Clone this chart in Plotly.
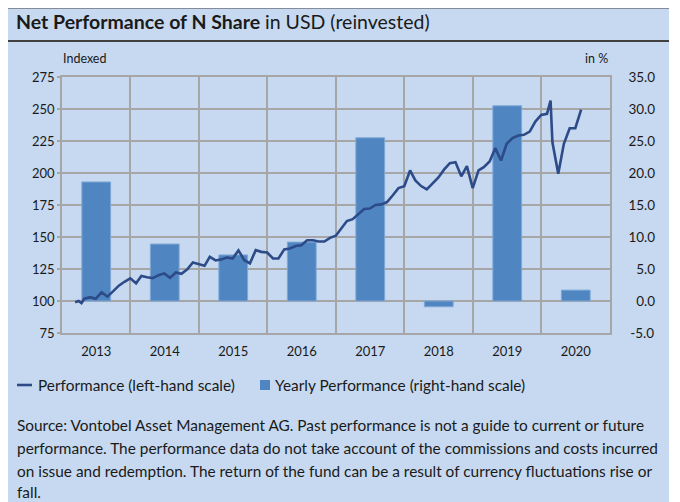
import plotly.graph_objects as go

# ---------------- data ----------------
years = ["2013", "2014", "2015", "2016", "2017", "2018", "2019", "2020"]
yearly_perf = [18.6, 8.9, 7.2, 9.2, 25.5, -0.9, 30.5, 1.7]

perf_dates = [
    "2013-03-12", "2013-03-31", "2013-04-15", "2013-04-30", "2013-05-31", "2013-06-30",
    "2013-07-31", "2013-08-31", "2013-09-30", "2013-10-31", "2013-11-30", "2013-12-31",
    "2014-01-31", "2014-02-28", "2014-03-31", "2014-04-30", "2014-05-31", "2014-06-30",
    "2014-07-31", "2014-08-31", "2014-09-30", "2014-10-31", "2014-11-30", "2014-12-31",
    "2015-01-31", "2015-02-28", "2015-03-31", "2015-04-30", "2015-05-31", "2015-06-30",
    "2015-07-31", "2015-08-31", "2015-09-30", "2015-10-31", "2015-11-30", "2015-12-31",
    "2016-01-31", "2016-02-29", "2016-03-31", "2016-04-30", "2016-05-31", "2016-06-30",
    "2016-07-31", "2016-08-31", "2016-09-30", "2016-10-31", "2016-11-30", "2016-12-31",
    "2017-01-31", "2017-02-28", "2017-03-31", "2017-04-30", "2017-05-31", "2017-06-30",
    "2017-07-31", "2017-08-31", "2017-09-30", "2017-10-31", "2017-11-30", "2017-12-31",
    "2018-01-31", "2018-02-28", "2018-03-31", "2018-04-30", "2018-05-31", "2018-06-30",
    "2018-07-31", "2018-08-31", "2018-09-30", "2018-10-31", "2018-11-30", "2018-12-31",
    "2019-01-31", "2019-02-28", "2019-03-31", "2019-04-30", "2019-05-31", "2019-06-30",
    "2019-07-31", "2019-08-31", "2019-09-30", "2019-10-31", "2019-11-30", "2019-12-31",
    "2020-01-31", "2020-02-19", "2020-02-29", "2020-03-31", "2020-04-30", "2020-05-31",
    "2020-06-30", "2020-07-31",
]
perf_values = [
    99.0, 100.0, 98.4, 101.8, 103.0, 101.8,
    106.8, 103.4, 107.5, 112.0, 115.0, 117.7,
    113.8, 119.5, 118.5, 117.9, 120.2, 121.6,
    118.1, 122.3, 121.3, 124.7, 130.1, 128.8,
    127.5, 134.5, 131.7, 132.5, 134.0, 133.2,
    139.5, 131.9, 129.4, 139.7, 138.4, 137.9,
    133.2, 133.2, 140.3, 141.0, 143.0, 143.6,
    147.5, 147.5, 146.5, 146.5, 149.3, 151.0,
    156.6, 162.5, 163.9, 167.5, 171.9, 172.2,
    175.0, 175.5, 177.3, 182.6, 188.2, 189.6,
    202.0, 194.2, 189.8, 187.2, 191.7, 196.3,
    202.6, 207.7, 208.5, 197.4, 205.4, 188.2,
    202.0, 204.6, 209.0, 219.4, 209.8, 222.8,
    227.2, 229.3, 229.8, 232.4, 240.2, 245.4,
    246.2, 256.5, 224.0, 199.5, 222.8, 235.0,
    235.0, 249.5,
]

left_ticks = [75, 100, 125, 150, 175, 200, 225, 250, 275]
right_ticks = [-5, 0, 5, 10, 15, 20, 25, 30, 35]
right_ticktext = ["\u2009-5.0", "\u20070.0", "\u20075.0", "10.0", "15.0", "20.0", "25.0", "30.0", "35.0"]

line_name = "Performance (left-hand scale)"
bar_name = "Yearly Performance (right-hand scale)"
title_bold = "Net Performance of N Share"
title_rest = "in USD (reinvested)"
left_unit = "Indexed"
right_unit = "in %"
source_lines = [
    "Source: Vontobel Asset Management AG. Past performance is not a guide to current or future",
    "performance. The performance data do not take account of the commissions and costs incurred",
    "on issue and redemption. The return of the fund can be a result of currency fluctuations rise or",
    "fall.",
]

# ---------------- style ----------------
BG = "#C6D9F0"
BAR = "#4F86C1"
LINE = "#2C4B88"
GRID = "#A6A6A6"
TXT = "#1A1A1A"
FONT = "Lato"

OFF = 8                      # page body margin of the browser
W, H = 672, 494              # figure size (page offset by OFF)
ML, MR, MT, MB = 54, 70, 69, 169
PW, PH = W - ML - MR, H - MT - MB


def px(x):
    """screen x -> paper x"""
    return (x - OFF - ML) / PW


def py(y):
    """screen y -> paper y"""
    return (H - MB - (y - OFF)) / PH


fig = go.Figure()

fig.add_trace(go.Bar(
    x=years, y=yearly_perf, xaxis="x", yaxis="y",
    name=bar_name, showlegend=False,
    marker=dict(color=BAR, line=dict(color="#7FA7D6", width=1)),
    width=0.42,
))

fig.add_trace(go.Scatter(
    x=perf_dates, y=perf_values, xaxis="x2", yaxis="y2",
    mode="lines", name=line_name, showlegend=False,
    line=dict(color=LINE, width=2.6),
))

fig.update_layout(
    width=W, height=H,
    margin=dict(l=ML, r=MR, t=MT, b=MB),
    paper_bgcolor="white",
    plot_bgcolor="rgba(0,0,0,0)",
    font=dict(family=FONT, size=13, color=TXT),
    showlegend=False,
    xaxis=dict(
        type="category", range=[-0.5, 7.5],
        showgrid=False, showline=True, mirror=True, linecolor=GRID, linewidth=1.5,
        ticks="", tickfont=dict(size=13, color=TXT), ticklabelstandoff=6,
        fixedrange=True,
    ),
    xaxis2=dict(
        type="date", overlaying="x", side="bottom",
        range=["2013-01-01", "2021-01-01"],
        tick0="2013-01-01", dtick="M12",
        showgrid=True, gridcolor=GRID, gridwidth=1.5,
        showticklabels=False, showline=False, ticks="", zeroline=False,
    ),
    yaxis=dict(
        side="right", range=[-5, 35],
        tickmode="array", tickvals=right_ticks, ticktext=right_ticktext,
        showgrid=True, gridcolor=GRID, gridwidth=1.5, zeroline=False,
        showline=True, linecolor=GRID, linewidth=1.5,
        ticks="", tickfont=dict(size=13.5, color=TXT), ticklabelstandoff=14,
    ),
    yaxis2=dict(
        side="left", overlaying="y", range=[75, 275],
        tickmode="array", tickvals=left_ticks,
        showgrid=False, zeroline=False,
        showline=True, linecolor=GRID, linewidth=1.5,
        ticks="outside", ticklen=3, tickcolor=GRID, tickwidth=1.5,
        tickfont=dict(size=13, color=TXT),
    ),
)

shapes = [
    # panel background
    dict(type="rect", xref="paper", yref="paper", x0=px(7), x1=px(669), y0=py(H + OFF + 5), y1=py(7),
         fillcolor=BG, line=dict(width=0), layer="below"),
    # title rules
    dict(type="line", xref="paper", yref="paper", x0=px(7), x1=px(669), y0=py(7.5), y1=py(7.5),
         line=dict(color="#404040", width=2)),
    dict(type="line", xref="paper", yref="paper", x0=px(7), x1=px(669), y0=py(41), y1=py(41),
         line=dict(color="#404040", width=2)),
    # legend keys
    dict(type="line", xref="paper", yref="paper", x0=px(17), x1=px(32), y0=py(385), y1=py(385),
         line=dict(color=LINE, width=2.6)),
    dict(type="rect", xref="paper", yref="paper", x0=px(260), x1=px(270), y0=py(390), y1=py(380),
         fillcolor=BAR, line=dict(width=0)),
]
fig.update_layout(shapes=shapes)

annotations = [
    dict(text=f"<b>{title_bold}</b> {title_rest}", xref="paper", yref="paper",
         x=px(14), y=py(21), xanchor="left", yanchor="middle", showarrow=False,
         font=dict(size=19.5, color=TXT)),
    dict(text=left_unit, xref="paper", yref="paper", x=px(61), y=py(58),
         xanchor="left", yanchor="middle", showarrow=False, font=dict(size=12.5, color=TXT)),
    dict(text=right_unit, xref="paper", yref="paper", x=px(610), y=py(58),
         xanchor="right", yanchor="middle", showarrow=False, font=dict(size=12.5, color=TXT)),
    dict(text=line_name, xref="paper", yref="paper", x=px(36), y=py(385),
         xanchor="left", yanchor="middle", showarrow=False, font=dict(size=15.4, color=TXT)),
    dict(text=bar_name, xref="paper", yref="paper", x=px(273), y=py(385),
         xanchor="left", yanchor="middle", showarrow=False, font=dict(size=15.4, color=TXT)),
]
source_y = [425, 448, 471, 492]
for line_text, yy in zip(source_lines, source_y):
    annotations.append(dict(text=line_text, xref="paper", yref="paper", x=px(15), y=py(yy),
                            xanchor="left", yanchor="middle", showarrow=False,
                            font=dict(size=15.4, color=TXT)))
fig.update_layout(annotations=annotations)

fig.write_html("out.html")
